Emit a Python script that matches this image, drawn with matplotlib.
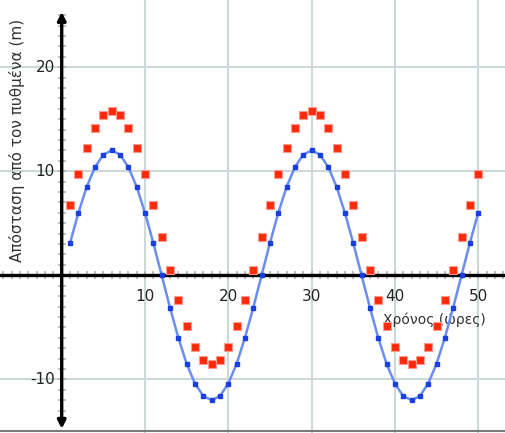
import matplotlib
matplotlib.use("Agg")
import matplotlib.pyplot as plt
from matplotlib.lines import Line2D

hours = list(range(1, 51))
depth_blue = [3.1, 6.0, 8.5, 10.4, 11.6, 12.0, 11.6, 10.4, 8.5, 6.0, 3.1, 0.0,
              -3.1, -6.0, -8.5, -10.4, -11.6, -12.0, -11.6, -10.4, -8.5, -6.0, -3.1, 0.0,
              3.1, 6.0, 8.5, 10.4, 11.6, 12.0, 11.6, 10.4, 8.5, 6.0, 3.1, 0.0,
              -3.1, -6.0, -8.5, -10.4, -11.6, -12.0, -11.6, -10.4, -8.5, -6.0, -3.1, 0.0,
              3.1, 6.0]
depth_red = [6.8, 9.7, 12.2, 14.2, 15.4, 15.8, 15.4, 14.2, 12.2, 9.7, 6.8, 3.7,
             0.5, -2.4, -4.9, -6.9, -8.1, -8.5, -8.1, -6.9, -4.9, -2.4, 0.5, 3.7,
             6.8, 9.7, 12.2, 14.2, 15.4, 15.8, 15.4, 14.2, 12.2, 9.7, 6.8, 3.7,
             0.5, -2.4, -4.9, -6.9, -8.1, -8.5, -8.1, -6.9, -4.9, -2.4, 0.5, 3.7,
             6.8, 9.7]
x_ticks = [10, 20, 30, 40, 50]
y_ticks = [20, 10, -10]
x_label = "Χρόνος (ώρες)"
y_label = "Απόσταση από τον πυθμένα (m)"

fig = plt.figure(figsize=(5.05, 4.33), dpi=100)
ax = fig.add_axes([0, 0, 1, 1])
ax.set_xlim(-7.41, 53.22)
ax.set_ylim(-15.15, 26.45)
ax.axis('off')

grid_c = '#cdd9d8'
for xv in x_ticks:
    ax.axvline(xv, color=grid_c, lw=1.5, zorder=0)
for yv in y_ticks:
    ax.axhline(yv, color=grid_c, lw=1.5, zorder=0)

# minor tick marks along axes
tick_c = '#b4b4b4'
ax.plot([0] * 40, list(range(-14, 26)), ls='none', marker='_', ms=6, mew=1.2,
        color=tick_c, zorder=1)
ax.plot(list(range(-7, 54)), [0] * 61, ls='none', marker='|', ms=6, mew=1.2,
        color=tick_c, zorder=1)

# axes lines
ax.axhline(0, color='black', lw=2.4, zorder=2)
ax.annotate('', xy=(0, 25.3), xytext=(0, -14.75),
            arrowprops=dict(arrowstyle='<|-|>', lw=2.4, color='black',
                            mutation_scale=12, shrinkA=0, shrinkB=0), zorder=2)

# tick labels
for yv in y_ticks:
    ax.text(-0.8, yv, str(yv), ha='right', va='center', fontsize=11, color='#222222')
for xv in x_ticks:
    ax.text(xv, -2.0, str(xv), ha='center', va='center', fontsize=11, color='#222222')

ax.text(44.8, -4.3, x_label, ha='center', va='center', fontsize=10, color='#333333')
ax.text(-5.4, 13.0, y_label, ha='center', va='center', rotation=90, fontsize=11,
        color='#333333')

# data
ax.plot(hours, depth_blue, color='#6a8df0', lw=1.8, marker='s', ms=2.6,
        mfc='#1a3fe0', mec='#1a3fe0', zorder=3)
ax.plot(hours, depth_red, ls='none', marker='s', ms=6.0, mfc='#ff2a0a',
        mec='#ff9a90', mew=0.8, zorder=4)

fig.add_artist(Line2D([0, 1], [0.004, 0.004], transform=fig.transFigure,
                      color='#7a7a7a', lw=1.5))

fig.savefig('out.png', dpi=100)
